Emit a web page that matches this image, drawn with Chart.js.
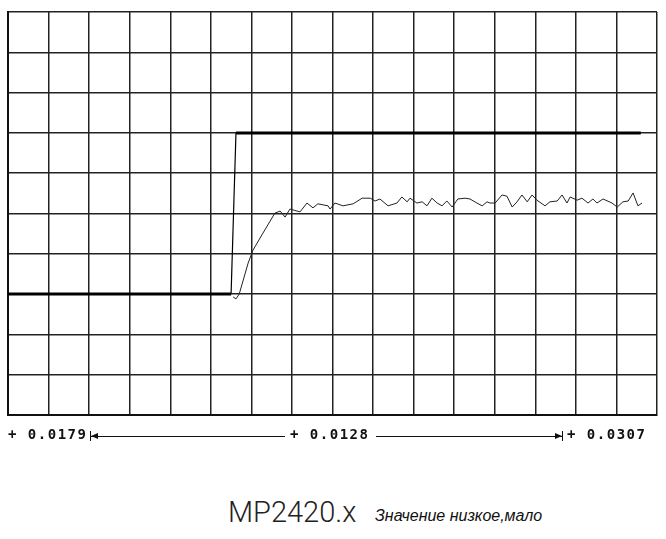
<!DOCTYPE html>
<html lang="ru">
<head>
<meta charset="UTF-8">
<title>MP2420.x</title>
<script src="https://cdn.jsdelivr.net/npm/chart.js"></script>
<style>
  body { margin: 0; background: #fff; width: 666px; height: 539px; position: relative; overflow: hidden; }
  #wrap { position: absolute; left: 0; top: 0; width: 666px; height: 430px; }
  .lbl { position: absolute; top: 426px; font: bold 14px 'DejaVu Sans Mono', monospace; letter-spacing: 1.5px; color: #111; white-space: nowrap; }
  .ln { position: absolute; top: 436px; height: 1px; background: #111; }
  .bar { position: absolute; top: 431px; width: 1px; height: 10px; background: #111; }
  .ah { position: absolute; top: 433px; width: 0; height: 0; border-top: 3.5px solid transparent; border-bottom: 3.5px solid transparent; }
  #title { position: absolute; left: 228px; top: 495px; font: 300 29px 'Roboto', sans-serif; color: #222; }
  #sub { position: absolute; left: 375px; top: 507px; font: italic 16px 'Liberation Sans', Arial, sans-serif; color: #111; }
</style>
</head>
<body>
<div id="wrap"><canvas id="chart"></canvas></div>

<div class="lbl" style="left:8px">+ 0.0179</div>
<div class="bar" style="left:90px"></div>
<div class="ah" style="left:91px;border-right:7px solid #111"></div>
<div class="ln" style="left:91px;width:194px"></div>
<div class="lbl" style="left:290px">+ 0.0128</div>
<div class="ln" style="left:376px;width:186px"></div>
<div class="ah" style="left:555px;border-left:7px solid #111"></div>
<div class="bar" style="left:562px"></div>
<div class="lbl" style="left:567px">+ 0.0307</div>

<div id="title">MP2420.x</div>
<div id="sub">Значение низкое,мало</div>

<script>
  // reference step (grid units): low level, rise, high level
  const lowX = [0, 5.5];
  const lowY = [3, 3];
  const riseX = [5.5, 5.62];
  const riseY = [3, 7];
  const highX = [5.62, 15.6];
  const highY = [7, 7];

  // measured response
  const respX = [5.55, 5.62, 5.70, 5.92, 6.04, 6.26, 6.58, 6.71, 6.83, 6.95, 7.20, 7.37, 7.52, 7.64, 7.89,
    7.94, 8.06, 8.26, 8.51, 8.73, 8.93, 9.05, 9.17, 9.37, 9.59, 9.71, 9.84, 9.91, 10.08, 10.21, 10.33,
    10.45, 10.58, 10.70, 10.82, 10.95, 11.09, 11.27, 11.39, 11.56, 11.69, 11.81, 11.88, 12.01, 12.18,
    12.30, 12.43, 12.55, 12.67, 12.80, 12.92, 13.04, 13.24, 13.36, 13.54, 13.66, 13.78, 13.86, 14.03,
    14.15, 14.30, 14.42, 14.52, 14.67, 14.89, 15.02, 15.16, 15.29, 15.41, 15.53, 15.63];
  const respY = [2.93, 2.88, 3.00, 3.77, 4.09, 4.47, 5.01, 5.06, 4.91, 5.11, 5.04, 5.26, 5.14, 5.24, 5.19,
    5.11, 5.26, 5.19, 5.24, 5.38, 5.38, 5.31, 5.36, 5.19, 5.26, 5.41, 5.29, 5.38, 5.26, 5.29, 5.19,
    5.38, 5.26, 5.19, 5.31, 5.16, 5.36, 5.38, 5.36, 5.26, 5.19, 5.29, 5.26, 5.26, 5.46,
    5.43, 5.16, 5.29, 5.46, 5.29, 5.46, 5.33, 5.19, 5.29, 5.31, 5.46, 5.26, 5.41, 5.33,
    5.38, 5.26, 5.36, 5.26, 5.36, 5.26, 5.16, 5.29, 5.31, 5.51, 5.19, 5.26];

  const pts = (xs, ys) => xs.map((x, i) => ({ x: x, y: ys[i] }));
  const line = (xs, ys, w) => ({ data: pts(xs, ys), borderColor: '#000', borderWidth: w, pointRadius: 0, tension: 0 });

  new Chart(document.getElementById('chart'), {
    type: 'line',
    data: {
      datasets: [
        line(lowX, lowY, 3),
        line(riseX, riseY, 1.2),
        line(highX, highY, 3),
        { data: pts(respX, respY), borderColor: '#222', borderWidth: 1, pointRadius: 0, tension: 0 }
      ]
    },
    options: {
      responsive: true,
      maintainAspectRatio: false,
      animation: false,
      layout: { padding: { left: 8, right: 9, top: 12, bottom: 15 } },
      plugins: { legend: { display: false }, tooltip: { enabled: false } },
      scales: {
        x: {
          type: 'linear', min: 0, max: 16,
          ticks: { display: false, stepSize: 1 },
          grid: { color: '#222', lineWidth: 1.5, drawTicks: false },
          border: { color: '#111', width: 2 }
        },
        y: {
          min: 0, max: 10,
          ticks: { display: false, stepSize: 1 },
          grid: { color: '#222', lineWidth: 1.5, drawTicks: false },
          border: { color: '#111', width: 2 }
        }
      }
    }
  });
</script>
</body>
</html>
